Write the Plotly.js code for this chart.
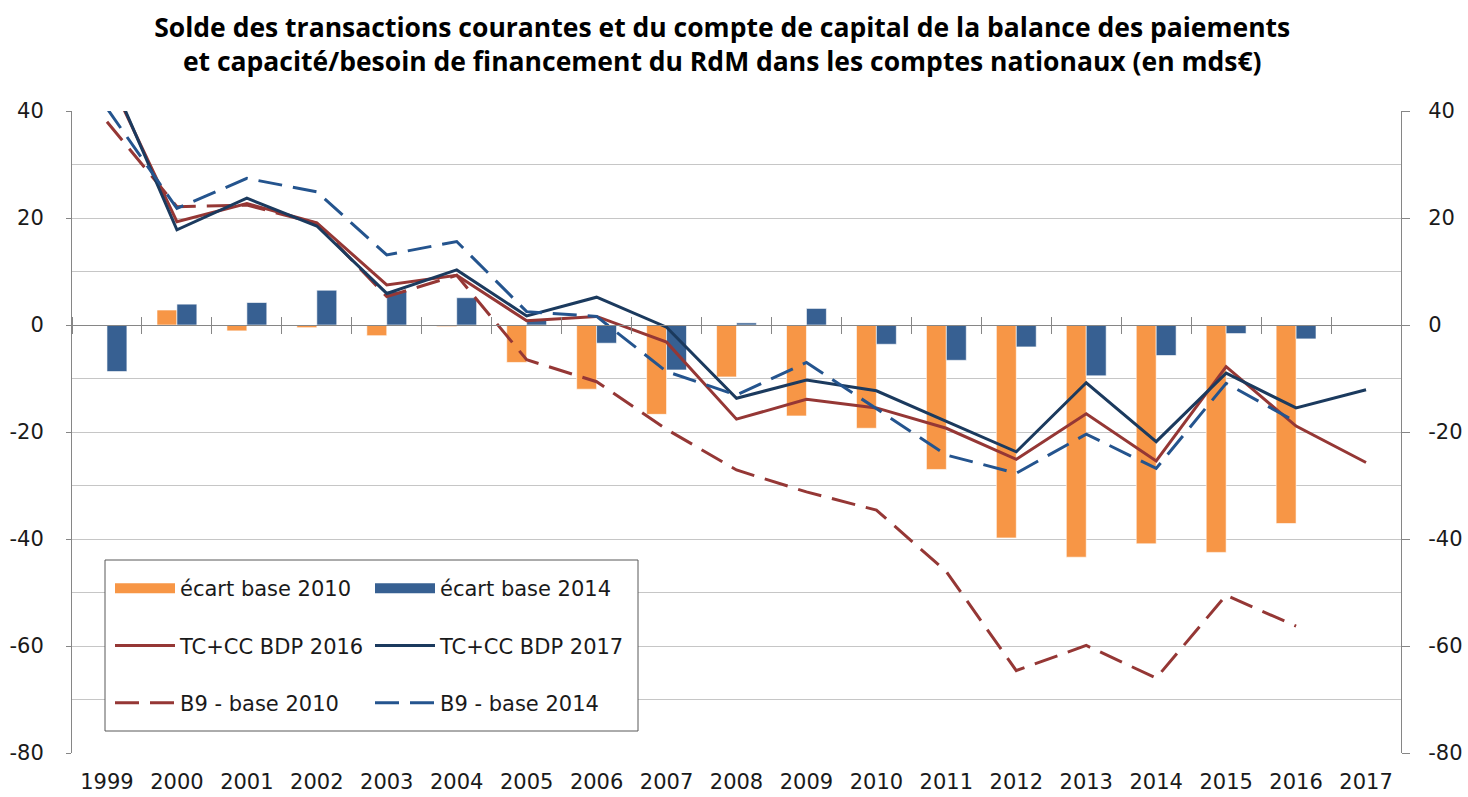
<!DOCTYPE html>
<html>
<head>
<meta charset="utf-8">
<script src="https://cdn.plot.ly/plotly-3.0.1.min.js"></script>
<style>html,body{margin:0;padding:0;background:#fff;}#chart{width:1468px;height:797px;}</style>
</head>
<body>
<div id="chart"></div>
<script>
const years = ['1999','2000','2001','2002','2003','2004','2005','2006','2007','2008','2009','2010','2011','2012','2013','2014','2015','2016','2017'];
const ecart2010 = [null, 2.8, -1.1, -0.5, -2.0, -0.3, -7.0, -12.0, -16.7, -9.7, -17.0, -19.3, -27.0, -39.8, -43.4, -40.9, -42.5, -37.1, null];
const ecart2014 = [-8.7, 3.9, 4.2, 6.5, 6.3, 5.1, 1.0, -3.4, -8.4, 0.4, 3.1, -3.6, -6.6, -4.1, -9.5, -5.7, -1.6, -2.6, null];
const tc2016 = [47.0, 19.3, 22.7, 19.1, 7.5, 9.3, 0.8, 1.6, -3.2, -17.6, -13.9, -15.5, -19.3, -25.1, -16.6, -25.4, -7.8, -18.9, -25.7];
const tc2017 = [48.0, 17.8, 23.7, 18.5, 5.9, 10.3, 1.7, 5.2, -0.4, -13.7, -10.3, -12.3, -18.0, -23.7, -10.8, -21.8, -9.0, -15.5, -12.1];
const b9base2010 = [38.0, 22.1, 22.4, 19.0, 5.3, 9.3, -6.5, -10.6, -19.5, -27.1, -31.2, -34.6, -46.1, -64.6, -59.9, -66.0, -50.5, -56.3, null];
const b9base2014 = [40.5, 21.8, 27.4, 24.9, 13.1, 15.6, 2.5, 1.6, -8.7, -13.1, -7.0, -15.6, -24.3, -27.7, -20.4, -26.8, -10.9, -18.1, null];
const yTicks = [-80, -60, -40, -20, 0, 20, 40];
const yTickText = ['-80', '-60', '-40', '-20', '0', '20', '40'];
const names = ['écart base 2010', 'écart base 2014', 'TC+CC BDP 2016', 'TC+CC BDP 2017', 'B9 - base 2010', 'B9 - base 2014'];

const cOrange = '#F79646', cBlue = '#376092', cRed = '#953735', cNavy = '#1B3A5E', cNavyD = '#24548E';
const dash = '24px,11px';
const FONT = 'DejaVu Sans, Verdana, sans-serif';

const traces = [
  {type:'bar', x: years, y: ecart2010, xaxis:'x', yaxis:'y', marker:{color:cOrange, line:{color:'rgba(255,255,255,0.6)', width:1}}, name:names[0], showlegend:false, hoverinfo:'skip'},
  {type:'bar', x: years, y: ecart2014, xaxis:'x', yaxis:'y', marker:{color:cBlue, line:{color:'rgba(255,255,255,0.6)', width:1}}, name:names[1], showlegend:false, hoverinfo:'skip'},
  {type:'scatter', mode:'lines', x: years, y: tc2016, xaxis:'x2', yaxis:'y', line:{color:cRed, width:3}, name:names[2], legend:'legend', legendgroup:'a2', legendrank:2},
  {type:'scatter', mode:'lines', x: years, y: b9base2010, xaxis:'x2', yaxis:'y', line:{color:cRed, width:3, dash:dash}, name:names[4], legend:'legend', legendgroup:'a3', legendrank:3},
  {type:'scatter', mode:'lines', x: years, y: tc2017, xaxis:'x3', yaxis:'y', line:{color:cNavy, width:3}, name:names[3], legend:'legend2', legendgroup:'b2', legendrank:2},
  {type:'scatter', mode:'lines', x: years, y: b9base2014, xaxis:'x3', yaxis:'y2', line:{color:cNavyD, width:3, dash:dash}, name:names[5], legend:'legend2', legendgroup:'b3', legendrank:3},
  {type:'scatter', mode:'lines', x:[null], y:[null], xaxis:'x3', yaxis:'y', line:{color:cOrange, width:14}, name:names[0], legend:'legend', legendgroup:'a1', legendrank:1, hoverinfo:'skip'},
  {type:'scatter', mode:'lines', x:[null], y:[null], xaxis:'x3', yaxis:'y', line:{color:cBlue, width:14}, name:names[1], legend:'legend2', legendgroup:'b1', legendrank:1, hoverinfo:'skip'}
];

const catAxis = {type:'category', categoryorder:'array', categoryarray: years, range:[-0.5, 18.5], showgrid:false, zeroline:false, fixedrange:true};
const legendBase = {bgcolor:'rgba(0,0,0,0)', borderwidth:0, font:{family:FONT, size:21, color:'#1a1a1a'}, itemwidth:60, tracegroupgap:27, xanchor:'left', yanchor:'top', traceorder:'grouped', itemclick:false, itemdoubleclick:false};

const layout = {
  width:1468, height:797,
  margin:{l:72, r:67, t:111, b:44},
  paper_bgcolor:'#fff', plot_bgcolor:'#fff',
  showlegend:true,
  barmode:'group', bargap:0.43, bargroupgap:0,
  title:{text:'Solde des transactions courantes et du compte de capital de la balance des paiements<br>et capacité/besoin de financement du RdM dans les comptes nationaux (en mds€)',
    font:{family:'Open Sans, sans-serif', size:26.5, color:'#000', weight:700},
    x:0.492, xref:'container', xanchor:'center', y:0.954, yref:'container', yanchor:'top'},
  xaxis: Object.assign({}, catAxis, {anchor:'free', position:2/3, side:'bottom', showline:true, linecolor:'#868686', linewidth:1, ticks:'outside', tickson:'boundaries', ticklen:8, tickcolor:'#868686', tickwidth:1, showticklabels:false}),
  xaxis2: Object.assign({}, catAxis, {overlaying:'x', anchor:'free', position:2/3, side:'top', showline:false, ticks:'outside', tickson:'boundaries', ticklen:8, tickcolor:'#868686', tickwidth:1, showticklabels:false}),
  xaxis3: Object.assign({}, catAxis, {overlaying:'x', anchor:'y', side:'bottom', showline:false, ticks:'outside', ticklen:10, tickcolor:'rgba(0,0,0,0)', tickfont:{family:FONT, size:21, color:'#1a1a1a'}}),
  yaxis:{range:[-80, 40], tickmode:'array', tickvals:yTicks, ticktext:yTickText, showline:true, linecolor:'#868686', linewidth:1, ticks:'outside', ticklen:5, tickcolor:'#868686',
    showgrid:true, gridcolor:'#c6c6c6', gridwidth:1, zeroline:false, ticklabelstandoff:18,
    minor:{tickmode:'linear', tick0:0, dtick:10, showgrid:true, gridcolor:'#c6c6c6', gridwidth:1, ticks:''},
    tickfont:{family:FONT, size:21, color:'#1a1a1a'}, fixedrange:true},
  yaxis2:{range:[-80, 40], overlaying:'y', side:'right', anchor:'free', position:1, tickmode:'array', tickvals:yTicks, ticktext:yTickText, showline:true, linecolor:'#868686', linewidth:1,
    ticks:'outside', ticklen:8, tickcolor:'#868686', showgrid:false, zeroline:false, ticklabelstandoff:14,
    tickfont:{family:FONT, size:21, color:'#1a1a1a'}, fixedrange:true},
  legend: Object.assign({}, legendBase, {x:(110-72)/1329, y:(753-568)/642}),
  legend2: Object.assign({}, legendBase, {x:(370-72)/1329, y:(753-568)/642}),
  shapes:[{type:'rect', xref:'paper', yref:'paper', x0:(105-72)/1329, x1:(638-72)/1329, y0:(753-731)/642, y1:(753-560)/642,
    fillcolor:'#fff', line:{color:'#595959', width:1}, layer:'above'}]
};

Plotly.newPlot('chart', traces, layout, {displayModeBar:false, staticPlot:true});
</script>
</body>
</html>
